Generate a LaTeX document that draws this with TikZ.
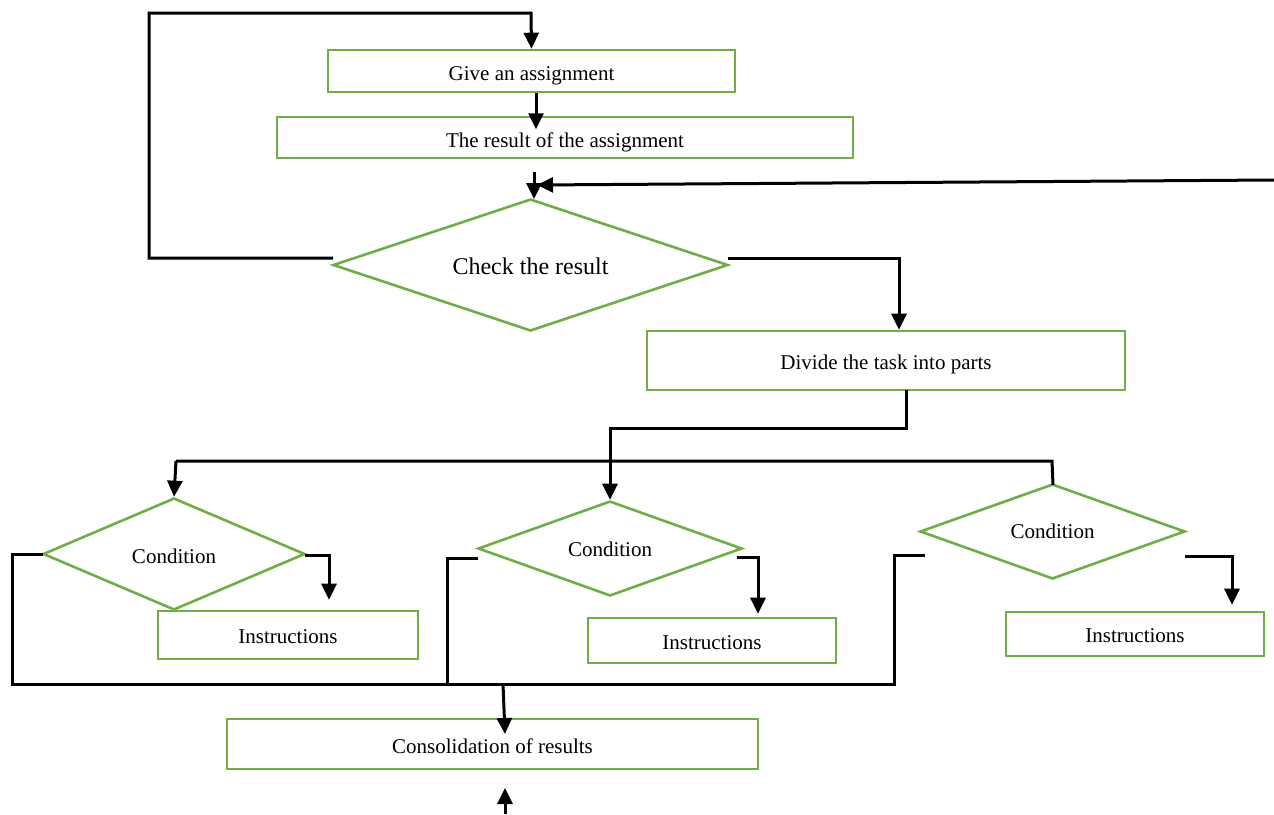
\documentclass[tikz,border=0pt]{standalone}
\usepackage{fontspec}
\setmainfont{Liberation Serif}
\usetikzlibrary{shapes.geometric,arrows.meta}
\definecolor{boxgreen}{RGB}{112,173,71}
\tikzset{
  box/.style={draw=boxgreen,line width=2.6pt,rectangle,inner sep=0pt,text height=17.5pt,text depth=0pt,font=\fontsize{21}{25}\selectfont},
  decision/.style={draw=boxgreen,line width=2.6pt,diamond,shape aspect=3,inner sep=0pt,text height=17.5pt,text depth=0pt,font=\fontsize{21}{25}\selectfont},
  conn/.style={draw=black,line width=3pt},
  arr/.style={conn,-{Triangle[length=16pt,width=15pt]}}
}
\begin{document}
\begin{tikzpicture}[x=1pt,y=-1pt]
\useasboundingbox (0,0) rectangle (1274,814);
% nodes
\node[box,minimum width=407pt,minimum height=42pt,text height=18pt] (give) at (531.5,71) {Give an assignment};
\node[box,minimum width=576pt,minimum height=41pt,text height=19pt] (result) at (565,137.5) {The result of the assignment};
\node[decision,minimum width=395pt,minimum height=132pt,text height=18pt,font=\fontsize{24}{28}\selectfont] (check) at (530.5,265) {Check the result};
\node[box,minimum width=478pt,minimum height=59pt] (divide) at (886,360.5) {Divide the task into parts};
\node[decision,minimum width=262pt,minimum height=112pt,text height=18.6pt] (cond1) at (174,554) {Condition};
\node[decision,minimum width=264pt,minimum height=95pt,text height=15pt] (cond2) at (610,548.5) {Condition};
\node[decision,minimum width=265pt,minimum height=95pt,text height=13.6pt] (cond3) at (1052.5,531.5) {Condition};
\node[box,minimum width=260pt,minimum height=48pt,text height=16.6pt] (instr1) at (288,635) {Instructions};
\node[box,minimum width=248pt,minimum height=45pt] (instr2) at (712,640.5) {Instructions};
\node[box,minimum width=258pt,minimum height=44pt] (instr3) at (1135,634) {Instructions};
\node[box,minimum width=531pt,minimum height=50pt,text height=18pt] (consol) at (492.5,744) {Consolidation of results};
% helper coordinates
\coordinate (chkL) at (333,258);
\coordinate (chkR) at (728,258);
\coordinate (inTop) at (534,172);
\coordinate (inTopEnd) at (534,199);
\coordinate (rightIn) at (1274,180);
\coordinate (rightInEnd) at (537,185);
\coordinate (divB) at (906,390);
\coordinate (branchL) at (176,461);
\coordinate (branchR) at (1052,461);
\coordinate (c3top) at (1053,485);
\coordinate (c1R) at (305,555);
\coordinate (c2R) at (737,557);
\coordinate (c3R) at (1185,556);
\coordinate (c1L) at (43,554);
\coordinate (c2L) at (478,558);
\coordinate (c3L) at (925,555);
\coordinate (merge) at (503,684);
\coordinate (consolIn) at (505,734);
\coordinate (bottomIn) at (505,814);
\coordinate (bottomEnd) at (505,788);
% connectors
\draw[arr] (chkL) -- (149,258) |- (531,13) -- (give.north);
\draw[arr] ([xshift=4.5pt]give.south) -- ++(0,36);
\draw[arr] (inTop) -- (inTopEnd);
\draw[arr] (rightIn) -- (rightInEnd);
\draw[arr] (chkR) -| (divide.north -| 899,0);
\draw[arr] (divB) -- (906,428) -| (cond2.north);
\draw[conn] (branchL) -- (branchR) -- (c3top);
\draw[arr] (branchL) -- (cond1.north);
\draw[arr] (c1R) -| ([yshift=10pt]instr1.north -| 329,0);
\draw[arr] (c2R) -| ([yshift=3pt]instr2.north -| 758,0);
\draw[arr] (c3R) -| ([yshift=6pt]instr3.north -| 1232,0);
\draw[conn] (c1L) -- (12,554) |- (894,684) |- (c3L);
\draw[conn] (c2L) -| (447,684);
\draw[arr] (merge) -- (consolIn);
\draw[arr] (bottomIn) -- (bottomEnd);
\end{tikzpicture}
\end{document}
